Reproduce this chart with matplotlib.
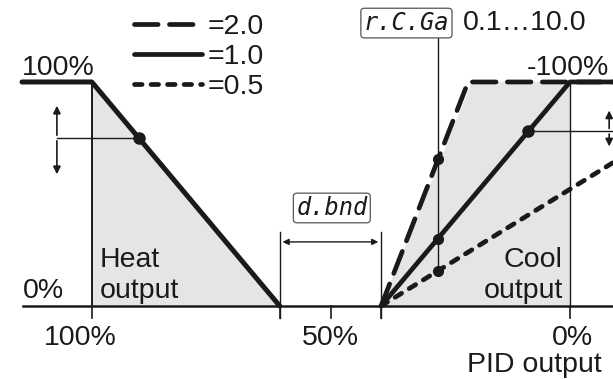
import matplotlib.pyplot as plt

plt.rcParams['font.family'] = ['Liberation Sans', 'DejaVu Sans']

# PID output (%) on x, heat / cool output (%) on y
heat_pid = [114.6, 100, 60.7]
heat_out = [100, 100, 0]
deadband = (39.5, 60.7)

cool_pid = {'2.0': [39.5, 21.3, -9.0], '1.0': [39.5, 0.0, -9.0], '0.5': [39.5, -9.0]}
cool_out = {'2.0': [0, 100, 100], '1.0': [0, 100, 100], '0.5': [0, 64]}
gain_labels = ['=2.0', '=1.0', '=0.5']

heat_dot = (90.2, 75)
cool_dot = (8.7, 78)
rcga_pid = 27.6
rcga_pts = [65.4, 30.1, 15.7]

bottom_ticks = [100, 50, 0]
bottom_labels = ['100%', '50%', '0%']

fig = plt.figure(figsize=(6.13, 3.79), dpi=100)
ax = fig.add_axes([0, 0, 1, 1])
ax.set_xlim(119.2, -9.0)
ax.set_ylim(-32.6, 136.6)
ax.axis('off')

k = '#1a1a1a'
grey = '#e4e5e6'
fs = 20.5

# shaded areas
ax.fill([100, 60.7, 100], [100, 0, 0], color=grey, lw=0, zorder=0)
ax.fill([39.5, 20.5, 0, 0], [0, 100, 100, 0], color=grey, lw=0, zorder=0)

# axis line and ticks
ax.plot([114.4, -9.0], [0, 0], color=k, lw=1.8, zorder=2)
for t in [100, 50, 0, deadband[0], deadband[1]]:
    ax.plot([t, t], [0, -5.4], color=k, lw=1.2, zorder=2)
ax.plot([100, 100], [0, 100], color=k, lw=1.4, zorder=2)
ax.plot([0, 0], [0, 100], color=k, lw=1.0, zorder=2)

# heat line
ax.plot(heat_pid, heat_out, color=k, lw=3.6, solid_capstyle='round', zorder=4)

styles = {'2.0': dict(dashes=(5.0, 2.4)), '1.0': dict(), '0.5': dict(dashes=(1.6, 1.9))}
handles = []
for g in ['2.0', '1.0', '0.5']:
    ln, = ax.plot(cool_pid[g], cool_out[g], color=k, lw=3.4, dash_capstyle='round',
                  solid_capstyle='round', zorder=4, **styles[g])
    handles.append(ln)

leg = ax.legend(handles, gain_labels, loc='upper left', bbox_to_anchor=(0.218, 0.962),
                frameon=False, fontsize=fs, handlelength=2.4, handletextpad=0.2,
                labelspacing=0.14, borderpad=0, borderaxespad=0)
for txt in leg.get_texts():
    txt.set_color(k)

arrow = dict(arrowstyle='-|>', color=k, lw=1.2, mutation_scale=11)

# heat marker + adjust arrow
ax.plot([107.3, heat_dot[0]], [heat_dot[1], heat_dot[1]], color=k, lw=1.0, zorder=3)
ax.plot(*heat_dot, 'o', color=k, ms=8, zorder=5)
ax.annotate('', xy=(107.3, 90.6), xytext=(107.3, 75), arrowprops=arrow)
ax.annotate('', xy=(107.3, 57.6), xytext=(107.3, 75), arrowprops=arrow)

# cool marker + adjust arrow
ax.plot([cool_dot[0], -9.0], [cool_dot[1], cool_dot[1]], color=k, lw=1.0, zorder=3)
ax.plot(*cool_dot, 'o', color=k, ms=8, zorder=5)
ax.annotate('', xy=(-8.2, 88.5), xytext=(-8.2, 78), arrowprops=arrow)
ax.annotate('', xy=(-8.2, 70.0), xytext=(-8.2, 78), arrowprops=arrow)

# r.C.Ga pointer
ax.plot([rcga_pid, rcga_pid], [rcga_pts[-1], 120.5], color=k, lw=1.0, zorder=3)
for v in rcga_pts:
    ax.plot(rcga_pid, v, 'o', color=k, ms=7, zorder=5)

# dead band
for t in deadband:
    ax.plot([t, t], [33, -5.4], color=k, lw=1.0, zorder=2)
ax.annotate('', xy=(deadband[1], 28.6), xytext=(deadband[0], 28.6),
            arrowprops=dict(arrowstyle='<|-|>', color=k, lw=1.0, mutation_scale=9))

seg_box = dict(boxstyle='round,pad=0.12,rounding_size=0.15', fc='white', ec='#555555', lw=0.9)
ax.text(34.2, 126.3, 'r.C.Ga', fontsize=17, family='DejaVu Sans Mono', style='italic',
        ha='center', va='center', color=k, bbox=seg_box)
ax.text(22.5, 126.3, '0.1…10.0', fontsize=fs, ha='left', va='center', color=k)
ax.text(49.8, 43.75, 'd.bnd', fontsize=17, family='DejaVu Sans Mono', style='italic',
        ha='center', va='center', color=k, bbox=seg_box)

# labels
ax.text(114.6, 103, '100%', fontsize=fs, ha='left', va='baseline', color=k)
ax.text(9.0, 103, '-100%', fontsize=fs, ha='left', va='baseline', color=k)
ax.text(114.4, 3.6, '0%', fontsize=fs, ha='left', va='baseline', color=k)
ax.text(98.3, 17.4, 'Heat', fontsize=fs, ha='left', va='baseline', color=k)
ax.text(98.3, 3.6, 'output', fontsize=fs, ha='left', va='baseline', color=k)
ax.text(1.5, 17.4, 'Cool', fontsize=fs, ha='right', va='baseline', color=k)
ax.text(1.5, 3.6, 'output', fontsize=fs, ha='right', va='baseline', color=k)
for t, lab, dx in zip(bottom_ticks, bottom_labels, [2.5, 0.2, -0.6]):
    ax.text(t + dx, -17.4, lab, fontsize=fs, ha='center', va='baseline', color=k)
ax.text(-6.7, -29.5, 'PID output', fontsize=fs, ha='right', va='baseline', color=k)

fig.savefig('out.png', dpi=100)
